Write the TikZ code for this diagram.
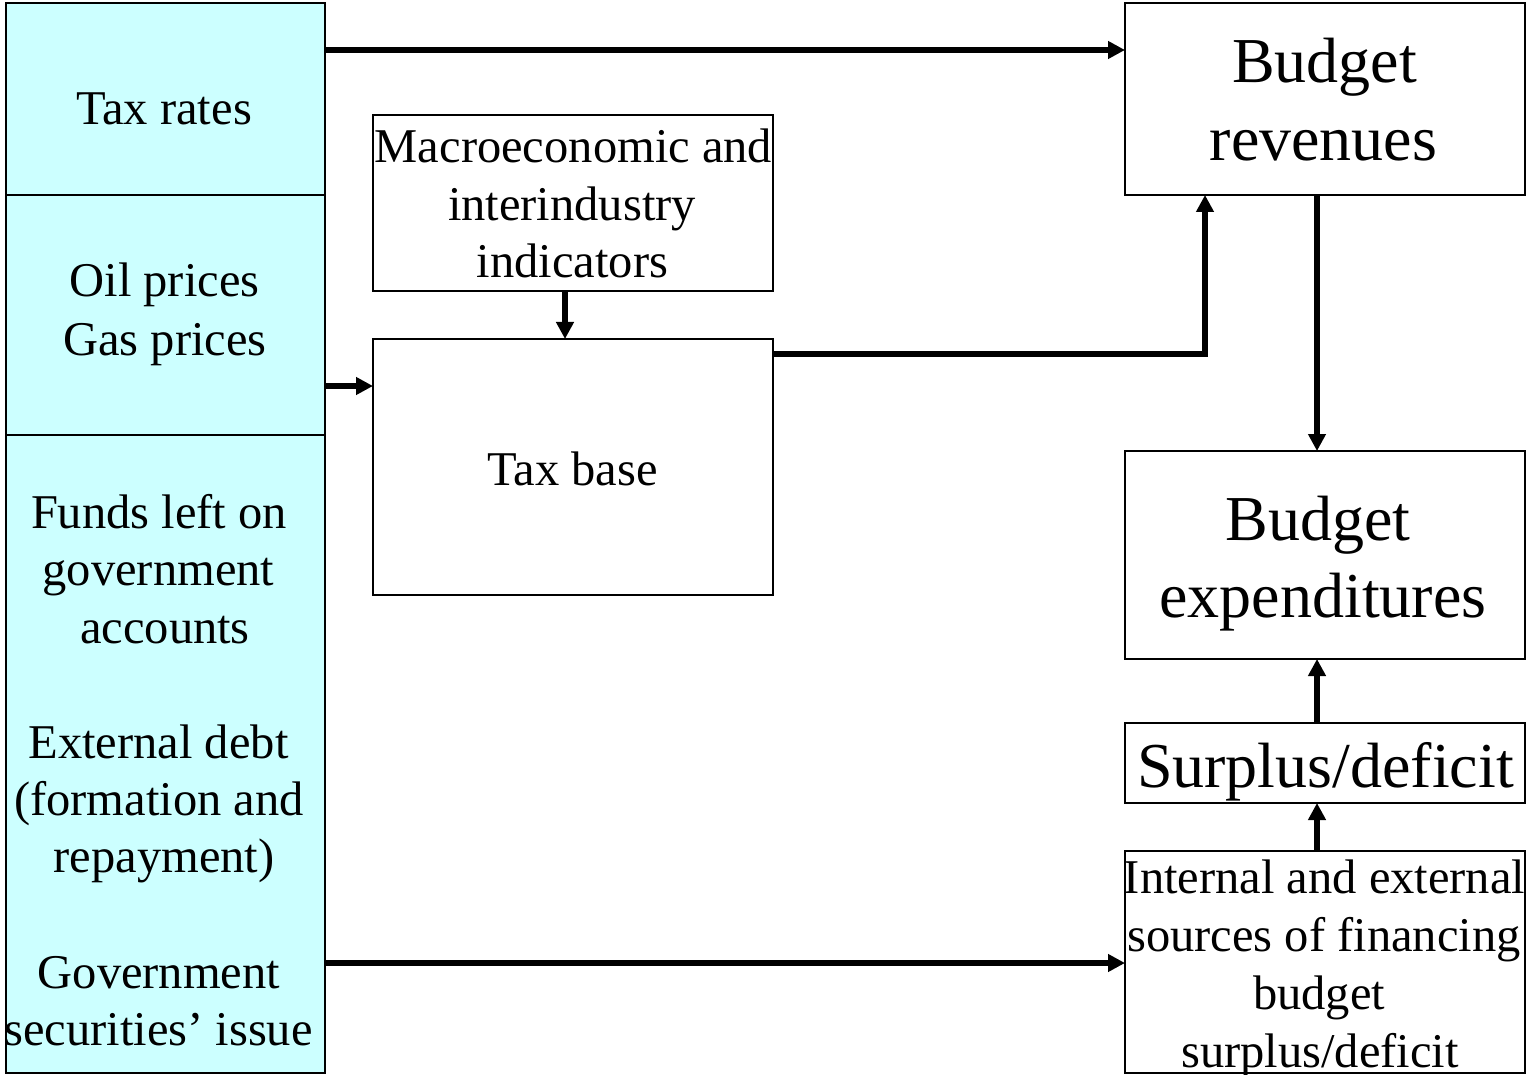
\documentclass[tikz,border=0pt]{standalone}
\usepackage{fontspec}
\setmainfont{Liberation Serif}
\usetikzlibrary{arrows.meta}
\definecolor{leftfill}{HTML}{CCFFFF}
\tikzset{
  box/.style={draw=black, line width=2pt, rectangle, inner sep=0pt, outer sep=0pt},
  leftbox/.style={box, fill=leftfill},
  sm/.style={font=\fontsize{48.5}{57}\selectfont, anchor=base, inner sep=0pt},
  lg/.style={font=\fontsize{64}{77}\selectfont, anchor=base, inner sep=0pt},
  conn/.style={line width=5.5pt, line join=miter, -{Triangle[length=17pt,width=17pt]}}
}
\begin{document}
\begin{tikzpicture}[x=1pt,y=-1pt]
\useasboundingbox (0,0) rectangle (1526,1075);
% left column
\node[leftbox, minimum width=319pt, minimum height=192pt] (tr) at (165.5,99) {};
\node[leftbox, minimum width=319pt, minimum height=240pt] (op) at (165.5,315) {};
\node[leftbox, minimum width=319pt, minimum height=638pt] (lo) at (165.5,754) {};
% middle
\node[box, minimum width=400pt, minimum height=176pt] (ma) at (573,203) {};
\node[box, minimum width=400pt, minimum height=256pt] (tb) at (573,467) {};
% right
\node[box, minimum width=400pt, minimum height=192pt] (rv) at (1325,99) {};
\node[box, minimum width=400pt, minimum height=208pt] (ex) at (1325,555) {};
\node[box, minimum width=400pt, minimum height=80pt] (sd) at (1325,763) {};
\node[box, minimum width=400pt, minimum height=222pt] (fi) at (1325,962) {};
% texts
\node[sm] (t1) at (164,125) {Tax rates};
\node[sm] (t2) at (164.5,297) {Oil prices};
\node[sm] (t3) at (165,355) {Gas prices};
\node[sm] (t4) at (159,528) {Funds left on};
\node[sm] (t5) at (158.5,585) {government};
\node[sm] (t6) at (165,643) {accounts};
\node[sm] (t7) at (158.5,758) {External debt};
\node[sm] (t8) at (159,815) {(formation and};
\node[sm] (t9) at (164,872) {repayment)};
\node[sm] (t10) at (159,988) {Government};
\node[sm] (t11) at (158.5,1045) {securities’ issue};
\node[sm] (m1) at (573.5,163) {Macroeconomic and};
\node[sm] (m2) at (572,221) {interindustry};
\node[sm] (m3) at (572.5,278) {indicators};
\node[sm] (b1) at (572.5,485) {Tax base};
\node[lg] (r1) at (1324.5,83) {Budget};
\node[lg] (r2) at (1323.5,161) {revenues};
\node[lg] (e1) at (1318,540) {Budget};
\node[lg] (e2) at (1323,617) {expenditures};
\node[lg] (s1) at (1325.5,787) {Surplus/deficit};
\node[sm] (f1) at (1324.5,893) {Internal and external};
\node[sm] (f2) at (1324,951) {sources of financing};
\node[sm] (f3) at (1319,1009) {budget};
\node[sm] (f4) at (1320,1067) {surplus/deficit};
% connectors
\draw[conn] (tr.east |- 0,50) -- (rv.west |- 0,50);
\draw[conn] (op.east |- 0,386) -- (tb.west |- 0,386);
\draw[conn] (ma.south -| 565,0) -- (tb.north -| 565,0);
\draw[conn] (tb.east |- 0,354) -- (1205,354) -- (rv.south -| 1205,0);
\draw[conn] (rv.south -| 1317,0) -- (ex.north -| 1317,0);
\draw[conn] (sd.north -| 1317,0) -- (ex.south -| 1317,0);
\draw[conn] (fi.north -| 1317,0) -- (sd.south -| 1317,0);
\draw[conn] (lo.east |- 0,963) -- (fi.west |- 0,963);
\end{tikzpicture}
\end{document}
